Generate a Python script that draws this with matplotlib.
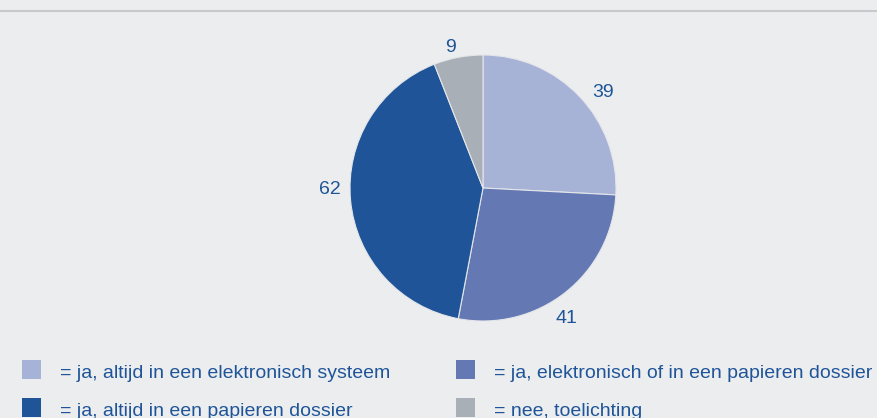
import numpy as np
import matplotlib.pyplot as plt
from matplotlib.patches import Rectangle
from matplotlib.lines import Line2D

plt.rcParams['font.family'] = ['Liberation Sans', 'DejaVu Sans']

# data
values = [39, 41, 62, 9]
colors = ['#A7B3D6', '#6479B4', '#1F5598', '#A8AFB6']
legend_labels = ['= ja, altijd in een elektronisch systeem',
                 '= ja, elektronisch of in een papieren dossier',
                 '= ja, altijd in een papieren dossier',
                 '= nee, toelichting']
# where each value label sits (angle in degrees, distance in radii)
label_angles = [39, -57, 180, 103]
label_dists = [1.16, 1.15, 1.15, 1.1]
text_color = '#1F5598'
bg = '#ECEDEF'

W, H = 878, 418
fig = plt.figure(figsize=(W / 100, H / 100), dpi=100, facecolor=bg)

# top rule
fig.add_artist(Line2D([0, 1], [1 - 10.5 / H, 1 - 10.5 / H], color='#C6C9CE', lw=1.5))

# pie, centre (483,188) radius 133 px
cx, cy, r = 483, 188, 133
ax = fig.add_axes([(cx - r) / W, (H - cy - r) / H, 2 * r / W, 2 * r / H])
ax.set_facecolor(bg)
ax.pie(values, colors=colors, startangle=90, counterclock=False,
       wedgeprops=dict(edgecolor='#E4E6EA', linewidth=0.8))
for v, a, d in zip(values, label_angles, label_dists):
    t = np.radians(a)
    ax.text(d * np.cos(t), d * np.sin(t) - 0.015, str(v), color=text_color, fontsize=14,
            ha='center', va='center')
ax.set_xlim(-1, 1)
ax.set_ylim(-1, 1)
ax.set_aspect('equal')
ax.axis('off')

# legend
rows = [(22, 369), (456, 369), (22, 407), (456, 407)]
for (x, y), c, lab in zip(rows, colors, legend_labels):
    fig.add_artist(Rectangle((x / W, 1 - (y + 9.5) / H), 19 / W, 19 / H,
                             transform=fig.transFigure, facecolor=c, edgecolor='none'))
    fig.text((x + 38) / W, 1 - (y + 4.5) / H, lab, color=text_color, fontsize=14,
             va='center', ha='left')

fig.savefig('out.png', dpi=100, facecolor=bg)
